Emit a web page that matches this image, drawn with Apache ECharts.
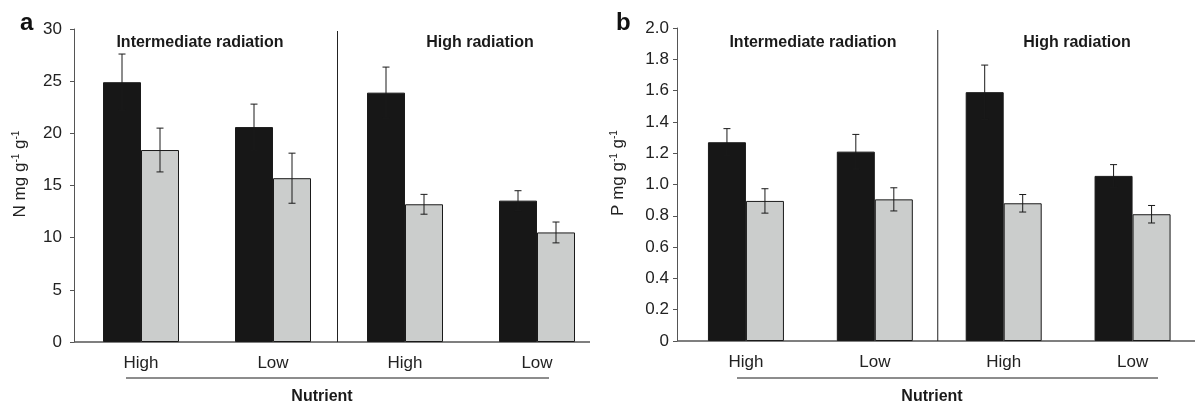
<!DOCTYPE html>
<html>
<head>
<meta charset="utf-8">
<script src="https://cdn.jsdelivr.net/npm/echarts@6/dist/echarts.min.js"></script>
<style>
  html, body { margin: 0; padding: 0; background: #fff; }
  #chart { width: 1197px; height: 408px; }
</style>
</head>
<body>
<div id="chart"></div>
<script>
// nutrient level x radiation
const categories = ['High', 'Low', 'High', 'Low'];

// panel a: N mg g-1
const nBlack = [24.9, 20.6, 23.9, 13.55];
const nBlackErr = [2.7, 2.2, 2.45, 0.95];
const nGrey = [18.4, 15.7, 13.2, 10.5];
const nGreyErr = [2.1, 2.4, 0.95, 1.0];

// panel b: P mg g-1
const pBlack = [1.27, 1.21, 1.59, 1.055];
const pBlackErr = [0.087, 0.11, 0.173, 0.072];
const pGrey = [0.895, 0.905, 0.88, 0.81];
const pGreyErr = [0.078, 0.074, 0.056, 0.056];

const nTicks = [0, 5, 10, 15, 20, 25, 30];
const pTicks = [0, 0.2, 0.4, 0.6, 0.8, 1.0, 1.2, 1.4, 1.6, 1.8, 2.0];

const FONT = 'Liberation Sans, Arial, sans-serif';

var chart = echarts.init(document.getElementById('chart'));

// error bars, drawn on top of the bars
function errData(vals, errs) {
  return vals.map((v, i) => [i, v - errs[i], v + errs[i]]);
}
function errSeries(axisIdx, vals, errs, offset) {
  return {
    type: 'custom',
    xAxisIndex: axisIdx,
    yAxisIndex: axisIdx,
    z: 5,
    data: errData(vals, errs),
    renderItem: function (params, api) {
      var x = api.coord([api.value(0), 0])[0] + offset;
      var lo = api.coord([api.value(0), api.value(1)])[1];
      var hi = api.coord([api.value(0), api.value(2)])[1];
      var st = { stroke: '#1a1a1a', lineWidth: 1 };
      return {
        type: 'group',
        children: [
          { type: 'line', shape: { x1: x, y1: lo, x2: x, y2: hi }, style: st },
          { type: 'line', shape: { x1: x - 3.5, y1: hi, x2: x + 3.5, y2: hi }, style: st },
          { type: 'line', shape: { x1: x - 3.5, y1: lo, x2: x + 3.5, y2: lo }, style: st }
        ]
      };
    }
  };
}

// vertical divider between intermediate and high radiation groups
function dividerSeries(axisIdx) {
  return {
    type: 'custom',
    xAxisIndex: axisIdx,
    yAxisIndex: axisIdx,
    silent: true,
    data: [[1, 2]],
    renderItem: function (params, api) {
      var x = (api.coord([api.value(0), 0])[0] + api.coord([api.value(1), 0])[0]) / 2 - 1.5;
      var cs = params.coordSys;
      return {
        type: 'line',
        shape: { x1: x, y1: cs.y + 2, x2: x, y2: cs.y + cs.height },
        style: { stroke: '#222', lineWidth: 1 }
      };
    }
  };
}

function barSeries(axisIdx, vals, col) {
  return {
    type: 'bar',
    xAxisIndex: axisIdx,
    yAxisIndex: axisIdx,
    data: vals,
    barWidth: 38,
    barGap: '0%',
    itemStyle: { color: col, borderColor: '#1a1a1a', borderWidth: 1 },
    emphasis: { disabled: true }
  };
}

function xAx(idx) {
  return {
    type: 'category',
    gridIndex: idx,
    data: categories,
    axisLine: { show: false },
    axisTick: { show: false },
    axisLabel: { color: '#222', fontSize: 17, fontFamily: FONT, margin: 13 },
    splitLine: { show: false }
  };
}

var titleStyle = { fontFamily: FONT, fontWeight: 'bold', fontSize: 16, color: '#1a1a1a' };
var letterStyle = { fontFamily: FONT, fontWeight: 'bold', fontSize: 24, color: '#111' };

var option = {
  animation: false,
  backgroundColor: '#fff',
  title: [
    { text: 'a', left: 15, top: 6, textStyle: letterStyle },
    { text: 'b', left: 611, top: 6, textStyle: letterStyle },
    { text: 'Intermediate radiation', left: 195, top: 30, textAlign: 'center', textStyle: titleStyle },
    { text: 'High radiation', left: 475, top: 30, textAlign: 'center', textStyle: titleStyle },
    { text: 'Intermediate radiation', left: 808, top: 30, textAlign: 'center', textStyle: titleStyle },
    { text: 'High radiation', left: 1072, top: 30, textAlign: 'center', textStyle: titleStyle }
  ],
  grid: [
    { left: 75, top: 29, width: 528, height: 313 },
    { left: 681.5, top: 28, width: 532, height: 313 }
  ],
  xAxis: [xAx(0), xAx(1)],
  yAxis: [
    {
      type: 'value', gridIndex: 0, min: nTicks[0], max: nTicks[nTicks.length - 1], interval: 5,
      offset: 1,
      axisLine: { show: true, lineStyle: { color: '#555' } },
      axisTick: { show: true, length: 4, lineStyle: { color: '#555' } },
      axisLabel: { color: '#222', fontSize: 17, fontFamily: FONT, margin: 12 },
      splitLine: { show: false }
    },
    {
      type: 'value', gridIndex: 1, min: pTicks[0], max: pTicks[pTicks.length - 1], interval: 0.2,
      offset: 4.5,
      axisLine: { show: true, lineStyle: { color: '#555' } },
      axisTick: { show: true, length: 4, lineStyle: { color: '#555' } },
      axisLabel: {
        color: '#222', fontSize: 17, fontFamily: FONT, margin: 8,
        formatter: function (v) { return v === 0 ? '0' : v.toFixed(1); }
      },
      splitLine: { show: false }
    }
  ],
  series: [
    barSeries(0, nBlack, '#171717'),
    barSeries(0, nGrey, '#cbcdcc'),
    errSeries(0, nBlack, nBlackErr, -19),
    errSeries(0, nGrey, nGreyErr, 19),
    dividerSeries(0),
    barSeries(1, pBlack, '#171717'),
    barSeries(1, pGrey, '#cbcdcc'),
    errSeries(1, pBlack, pBlackErr, -19),
    errSeries(1, pGrey, pGreyErr, 19),
    dividerSeries(1)
  ],
  graphic: [
    // x axis base lines
    { type: 'line', shape: { x1: 74, y1: 342, x2: 590, y2: 342 }, style: { stroke: '#555', lineWidth: 1.5 } },
    { type: 'line', shape: { x1: 677, y1: 341, x2: 1195, y2: 341 }, style: { stroke: '#555', lineWidth: 1.5 } },
    // nutrient underline
    { type: 'line', shape: { x1: 126, y1: 378, x2: 549, y2: 378 }, style: { stroke: '#1a1a1a', lineWidth: 1 } },
    { type: 'line', shape: { x1: 737, y1: 378, x2: 1158, y2: 378 }, style: { stroke: '#1a1a1a', lineWidth: 1 } },
    {
      type: 'text', x: 322, y: 397,
      style: { text: 'Nutrient', font: 'bold 16px ' + FONT, fill: '#1a1a1a', align: 'center', verticalAlign: 'middle' }
    },
    {
      type: 'text', x: 932, y: 397,
      style: { text: 'Nutrient', font: 'bold 16px ' + FONT, fill: '#1a1a1a', align: 'center', verticalAlign: 'middle' }
    },
    // y axis names with superscripts
    {
      type: 'text', x: 20, y: 174, rotation: Math.PI / 2,
      style: {
        text: '{m|N mg g}{s|-1}{m| g}{s|-1}',
        align: 'center', verticalAlign: 'middle', fill: '#222',
        rich: {
          m: { fontSize: 17, fontFamily: FONT, lineHeight: 17, fill: '#222' },
          s: { fontSize: 10, fontFamily: FONT, lineHeight: 10, verticalAlign: 'top', fill: '#222' }
        }
      }
    },
    {
      type: 'text', x: 618, y: 173, rotation: Math.PI / 2,
      style: {
        text: '{m|P mg g}{s|-1}{m| g}{s|-1}',
        align: 'center', verticalAlign: 'middle', fill: '#222',
        rich: {
          m: { fontSize: 17, fontFamily: FONT, lineHeight: 17, fill: '#222' },
          s: { fontSize: 10, fontFamily: FONT, lineHeight: 10, verticalAlign: 'top', fill: '#222' }
        }
      }
    }
  ]
};

chart.setOption(option);
</script>
</body>
</html>
